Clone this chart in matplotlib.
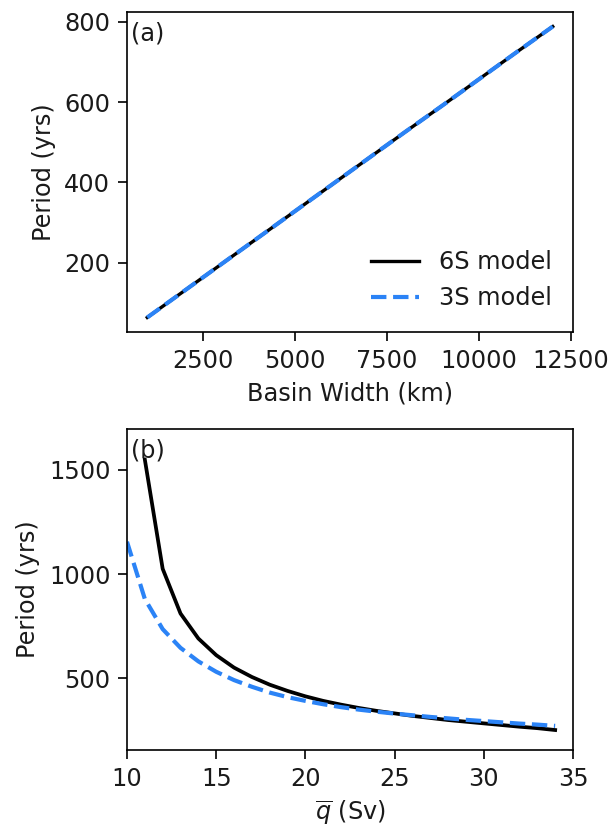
import matplotlib
matplotlib.use("Agg")
import matplotlib.pyplot as plt

# (a) periodo frente a anchura de cuenca
width_km = [1000, 2000, 3000, 4000, 5000, 6000, 7000, 8000, 9000, 10000, 11000, 12000]
period_6s_a = [64, 130, 196, 262, 328, 394, 460, 526, 591, 657, 723, 788]
period_3s_a = [64, 130, 196, 262, 328, 394, 460, 526, 591, 657, 723, 788]

# (b) periodo frente a q medio
q_6s = [11, 12, 13, 14, 15, 16, 17, 18, 19, 20, 21, 22, 23, 24,
        25, 26, 27, 28, 29, 30, 31, 32, 33, 34]
period_6s_b = [1550, 1025, 810, 690, 610, 550, 505, 468, 438, 412, 390, 372,
               356, 342, 330, 318, 308, 298, 290, 282, 274, 266, 259, 250]
q_3s = [10, 11, 12, 13, 14, 15, 16, 17, 18, 19, 20, 21, 22, 23, 24,
        25, 26, 27, 28, 29, 30, 31, 32, 33, 34]
period_3s_b = [1155, 880, 735, 645, 580, 530, 490, 458, 430, 408, 390, 374,
               360, 348, 338, 329, 321, 313, 306, 299, 293, 287, 281, 276, 270]

BLUE = "#2b83f6"

plt.rcParams["font.size"] = 11.5
plt.rcParams["text.color"] = "#1a1a1a"
plt.rcParams["xtick.labelcolor"] = "#1a1a1a"
plt.rcParams["ytick.labelcolor"] = "#1a1a1a"
plt.rcParams["axes.labelcolor"] = "#1a1a1a"
plt.rcParams["xtick.major.size"] = 4.5
plt.rcParams["ytick.major.size"] = 4.5

fig = plt.figure(figsize=(610 / 150, 829 / 150), dpi=150)
ax1 = fig.add_axes([127 / 610, 1 - 332 / 829, 446 / 610, 320 / 829])
ax2 = fig.add_axes([127 / 610, 1 - 750 / 829, 446 / 610, 321 / 829])

ax1.plot(width_km, period_6s_a, color="black", lw=1.6, label="6S model")
ax1.plot(width_km, period_3s_a, color=BLUE, lw=2, ls="--", label="3S model")
ax1.set_xlabel("Basin Width (km)")
ax1.set_ylabel("Period (yrs)")
ax1.set_xticks([2500, 5000, 7500, 10000, 12500])
ax1.set_yticks([200, 400, 600, 800])
ax1.legend(loc="lower right", frameon=False, handlelength=2.0)
ax1.text(0.008, 0.97, "(a)", transform=ax1.transAxes, ha="left", va="top")

ax2.plot(q_6s, period_6s_b, color="black", lw=1.8)
ax2.plot(q_3s, period_3s_b, color=BLUE, lw=2, ls="--")
ax2.set_xlim(10, 35)
ax2.set_ylim(154, 1697)
ax2.set_yticks([500, 1000, 1500])
ax2.set_xlabel(r"$\overline{q}$ (Sv)")
ax2.set_ylabel("Period (yrs)")
ax2.text(0.008, 0.97, "(b)", transform=ax2.transAxes, ha="left", va="top")

fig.savefig("out.png", dpi=150)
